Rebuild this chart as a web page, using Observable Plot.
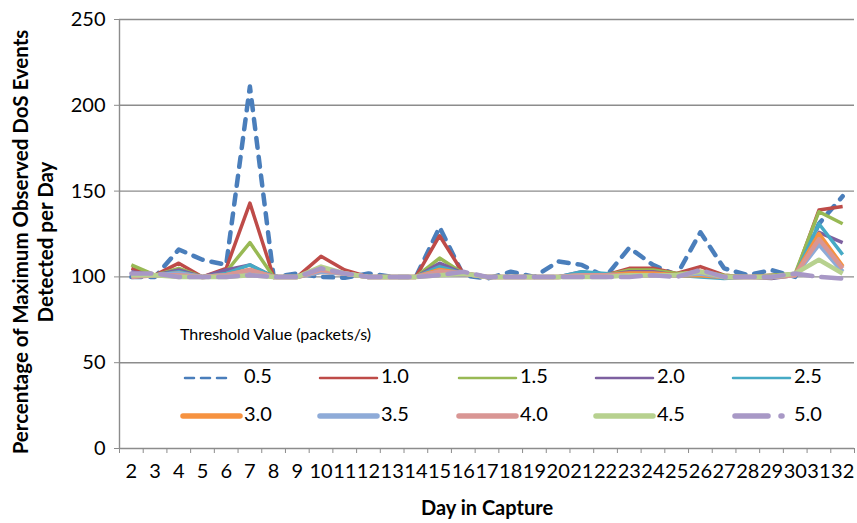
<!DOCTYPE html>
<html><head><meta charset="utf-8">
<script src="https://cdn.jsdelivr.net/npm/d3@7"></script>
<script src="https://cdn.jsdelivr.net/npm/@observablehq/plot@0.6"></script>
<style>
body{margin:0;background:#fff}
#chart svg{font-family:Lato,"Open Sans",sans-serif;background:#fff}
</style>
</head><body><div id="chart"></div>
<script>
// Days in capture (x categories)
const days = [2,3,4,5,6,7,8,9,10,11,12,13,14,15,16,17,18,19,20,21,22,23,24,25,26,27,28,29,30,31,32];
// Threshold values (series names)
const thresholds = ["0.5","1.0","1.5","2.0","2.5","3.0","3.5","4.0","4.5","5.0"];
// Series values, one per day (2..32)
const s05 = [100,100,116,110,107,211,100,102,100,99.5,102,100,100,129,101,99,103,100,109,107,100,117,107,101,126,105,101,104,100,131,147];
const s10 = [105,101,108,100,105,143,100,100,112,104,100,100,100,124,102,100,100,100,100,102,101,105,105,102,106,101,100,101,101,139,141];
const s15 = [107,101,105,100,103,120,100,100,104,102,100,100,100,111,102,100,100,100,100,101,101,104,104,102,103,101,100,101,102,138,131];
const s20 = [103,101,104,100,104,107,100,100,103,102,100,100,100,108,102,100,100,100,100,103,101,103,103,101,102,100,100,99,101,126,120];
const s25 = [102,101,103,100,102,107,100,100,103,102,100,100,100,106,102,100,100,100,100,103,102,101,101,101,100,99,100,100,101,131,113];
const s30 = [101,101,102,100,101,104,100,100,103,102,100,100,100,104,102,100,100,100,100,101,101,102,102,101,101,100,100,100,101,125,106];
const s35 = [101,101,102,100,101,103,100,100,103,102,100,100,100,103,102,100,100,100,100,101,101,101,101,101,102,100,100,100,101,119,103];
const s40 = [100,101,101,100,101,104,100,100,104,102,100,100,100,103,102,100,100,100,100,101,101,101,101,101,103,100,100,100,101,122,105];
const s45 = [101,101,100,100,100,101,100,100,106,102,100,100,100,101,102,100,100,100,100,100,100,101,101,101,103,100,100,100,102,110,102];
const s50 = [102,102,100,100,100,101,100,100,105,102,100,100,100,101,103,100,100,100,100,100,100,100,101,100,104,100,100,100,102,100,99];
// Y tick values
const yTicks = [0,50,100,150,200,250];

const series = [s05,s10,s15,s20,s25,s30,s35,s40,s45,s50];
const colors = ["#4A7EBB","#BE4B48","#98B954","#7D60A0","#46AAC5","#F69240","#8EABD8","#D99694","#B7D18F","#A898C6"];
const widths = [4.5,3.5,3.5,3.5,3.5,4.5,4.5,4.5,4.5,4.5];
const dashes = ["10,9",null,null,null,null,null,null,null,null,"20,9"];

const data = thresholds.flatMap((t,i)=>series[i].map((v,j)=>({threshold:t, day:days[j], value:v})));

const marks = [
  Plot.gridY({ticks: yTicks.filter(d=>d>0), stroke:"#8c8c8c", strokeOpacity:1, strokeWidth:1.4}),
  Plot.ruleX([1.5], {stroke:"#8c8c8c", strokeWidth:1.4}),
  Plot.ruleY([0], {stroke:"#8c8c8c", strokeWidth:1.4}),
  Plot.axisY({ticks: yTicks, tickSize:5, tickPadding:9, stroke:"#8c8c8c", fill:"#000", fontSize:20, label:null}),
  Plot.axisX({ticks: d3.range(1.5,33,1), tickFormat: ()=>"", tickSize:5, stroke:"#8c8c8c", label:null}),
  Plot.axisX({ticks: days, tickSize:0, tickPadding:15, fill:"#000", fontSize:20, label:null, tickFormat: d=>String(d)}),
  ...thresholds.map((t,i)=>Plot.line(data.filter(d=>d.threshold===t), {
    x:"day", y:"value", stroke:colors[i], strokeWidth:widths[i],
    strokeDasharray: dashes[i] || undefined, strokeLinecap: dashes[i] ? "round" : "butt", strokeLinejoin:"round"
  }))
];

const chart = Plot.plot({
  width:857, height:523,
  marginLeft:119, marginRight:3, marginTop:19, marginBottom:75,
  x:{type:"linear", domain:[1.5,32.5]},
  y:{domain:[0,250]},
  style:{fontFamily:"Lato, 'Open Sans', sans-serif", color:"#000", background:"#fff"},
  marks
});
document.getElementById("chart").append(chart);

const svg = d3.select(chart);
// Axis titles
svg.append("text").attr("x",487).attr("y",510).attr("text-anchor","middle").attr("dominant-baseline","middle")
  .attr("font-weight","bold").attr("font-size",20).text("Day in Capture");
const yt = svg.append("text").attr("transform","translate(21,242) rotate(-90)").attr("text-anchor","middle")
  .attr("font-weight","bold").attr("font-size",20.5);
yt.append("tspan").attr("x",0).attr("dy","0.35em").text("Percentage of Maximum Observed DoS Events");
yt.append("tspan").attr("x",0).attr("dy",25).text("Detected per Day");

// Legend
const lg = svg.append("g").attr("text-anchor","start");
lg.append("text").attr("x",180).attr("y",336).attr("dominant-baseline","middle").attr("font-size",16).text("Threshold Value (packets/s)");
const colX = [183,320,459,596,733];
const rowY = [378,416];
thresholds.forEach((t,i)=>{
  const r = Math.floor(i/5), c = i%5;
  const x0 = colX[c], y0 = rowY[r];
  lg.append("line").attr("x1",x0+(dashes[i]?2:0)).attr("x2",x0+(i===0?47:(i===9?56:57))).attr("y1",y0).attr("y2",y0)
    .attr("stroke",colors[i]).attr("stroke-width", r===0?2.5:5.5)
    .attr("stroke-dasharray", i===0 ? "9,7" : (i===9 ? "33,13,1,20" : null))
    .attr("stroke-linecap","round");
  lg.append("text").attr("x", x0+61).attr("y", y0).attr("dominant-baseline","middle").attr("font-size",20).text(t);
});
</script>
</body></html>
